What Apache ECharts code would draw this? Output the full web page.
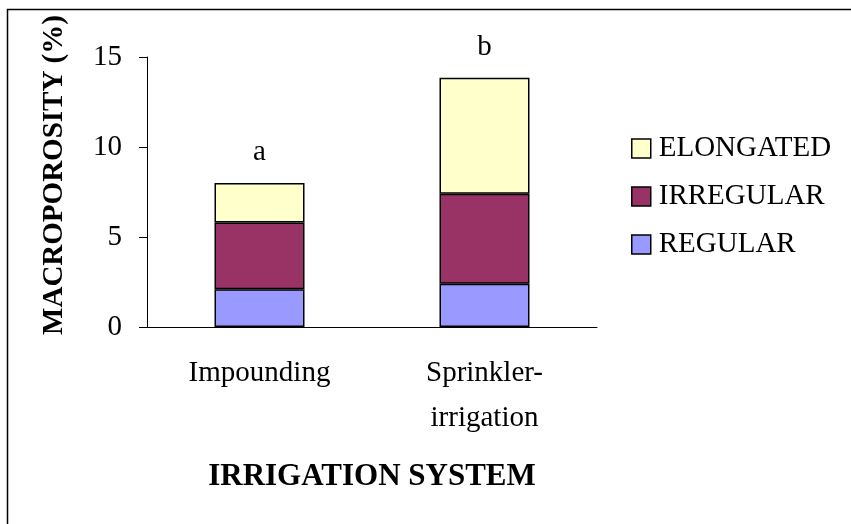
<!DOCTYPE html>
<html>
<head>
<meta charset="utf-8">
<script src="https://cdn.jsdelivr.net/npm/echarts@6/dist/echarts.min.js"></script>
<style>
  html, body { margin: 0; padding: 0; background: #fff; }
  #chart { width: 851px; height: 524px; }
</style>
</head>
<body>
<div id="chart"></div>
<script>
const categories = ['Impounding', 'Sprinkler-\nirrigation']
const regular = [2.1, 2.4]
const irregular = [3.7, 5.0]
const elongated = [2.2, 6.45]
const letters = ['a', 'b']
const yTicks = [0, 5, 10, 15]

const font = 'Liberation Serif, Times New Roman, serif'
const chart = echarts.init(document.getElementById('chart'))

function bar(name, data, color, extra) {
  return Object.assign({
    name,
    type: 'bar',
    stack: 'total',
    data,
    barWidth: '40%',
    itemStyle: { color, borderColor: '#000', borderWidth: 1.5 }
  }, extra || {})
}

chart.setOption({
  animation: false,
  textStyle: { fontFamily: font, color: '#000' },
  grid: { left: 147, right: 254, top: 57, bottom: 197 },
  legend: {
    orient: 'vertical',
    left: 631,
    top: 134,
    padding: 0,
    itemWidth: 19,
    itemHeight: 19,
    itemGap: 19,
    icon: 'rect',
    data: ['ELONGATED', 'IRREGULAR', 'REGULAR'],
    itemStyle: { borderColor: '#000', borderWidth: 1.5 },
    textStyle: { fontFamily: font, fontSize: 29, color: '#000', padding: [0, 0, 0, 3] }
  },
  xAxis: {
    type: 'category',
    data: categories,
    name: 'IRRIGATION SYSTEM',
    nameLocation: 'middle',
    nameGap: 134,
    nameTextStyle: { fontFamily: font, fontSize: 31, fontWeight: 'bold', color: '#000' },
    axisLine: { lineStyle: { color: '#000', width: 1 } },
    axisTick: { length: 8, lineStyle: { color: '#000' } },
    axisLabel: { fontFamily: font, fontSize: 29, color: '#000', margin: 24, lineHeight: 45 }
  },
  yAxis: {
    type: 'value',
    min: yTicks[0],
    max: yTicks[yTicks.length - 1],
    interval: 5,
    splitLine: { show: false },
    axisLine: { show: true, lineStyle: { color: '#000', width: 1 } },
    axisTick: { show: true, length: 8, lineStyle: { color: '#000' } },
    axisLabel: { fontFamily: font, fontSize: 29, color: '#000', margin: 25 }
  },
  graphic: [
    {
      type: 'rect',
      shape: { x: 7.5, y: 9.5, width: 900, height: 600 },
      style: { fill: 'none', stroke: '#000', lineWidth: 1.5 },
      silent: true
    },
    {
      type: 'text',
      x: 55,
      y: 175,
      rotation: Math.PI / 2,
      style: {
        text: 'MACROPOROSITY (%)',
        fontFamily: font,
        fontSize: 29,
        fontWeight: 'bold',
        fill: '#000',
        align: 'center',
        verticalAlign: 'middle'
      }
    }
  ],
  series: [
    bar('REGULAR', regular, '#9999ff'),
    bar('IRREGULAR', irregular, '#993366'),
    bar('ELONGATED', elongated, '#ffffcc', {
      label: {
        show: true,
        position: 'top',
        distance: 16,
        fontFamily: font,
        fontSize: 29,
        color: '#000',
        formatter: p => letters[p.dataIndex]
      }
    })
  ]
})
</script>
</body>
</html>
